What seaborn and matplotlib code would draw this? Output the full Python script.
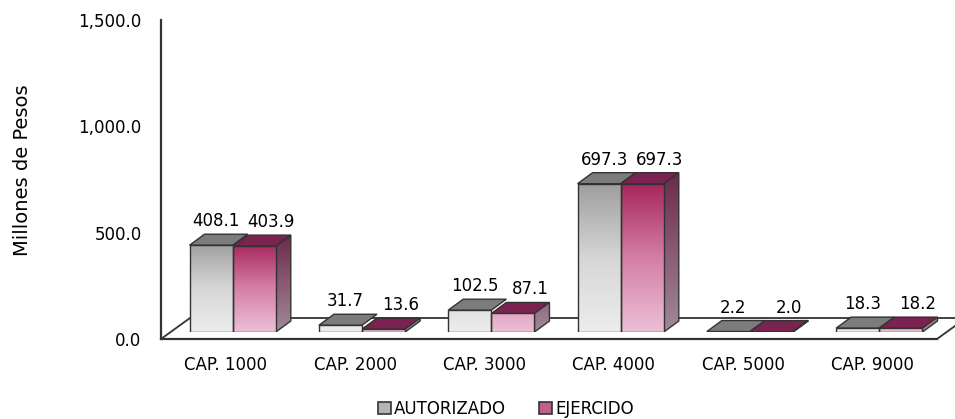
import numpy as np
import pandas as pd
import matplotlib
matplotlib.use("Agg")
import matplotlib.pyplot as plt
import seaborn as sns
from matplotlib.colors import LinearSegmentedColormap
from matplotlib.patches import Polygon, Patch

# ---------------- data ----------------
categories = ["CAP. 1000", "CAP. 2000", "CAP. 3000", "CAP. 4000", "CAP. 5000", "CAP. 9000"]
autorizado = [408.1, 31.7, 102.5, 697.3, 2.2, 18.3]
ejercido = [403.9, 13.6, 87.1, 697.3, 2.0, 18.2]
series = ["AUTORIZADO", "EJERCIDO"]
y_ticks = [0, 500, 1000, 1500]
y_label = "Millones de Pesos"

df = pd.DataFrame({
    "cat": categories * 2,
    "serie": [series[0]] * len(categories) + [series[1]] * len(categories),
    "valor": autorizado + ejercido,
})

# ---------------- style ----------------
sns.set_style("white")
plt.rcParams["font.family"] = ["DejaVu Sans"]
plt.rcParams["text.color"] = "black"
plt.rcParams["xtick.labelcolor"] = "black"
plt.rcParams["ytick.labelcolor"] = "black"
plt.rcParams["axes.labelcolor"] = "black"
FS = 12
INK = "#333333"

W, H = 955, 419
fig = plt.figure(figsize=(W / 100, H / 100), dpi=100)

fx0, fx1 = 161, 937      # front plane x extent (px)
fy0, fy1 = 339, 20       # front plane y: 0 and 1500 (px)
bar_shift = 7            # bars sit a bit deeper (px)


def rect(x0, y0):
    return [x0 / W, (H - y0) / H, (fx1 - fx0) / W, (fy0 - fy1) / H]


axf = fig.add_axes(rect(fx0, fy0))
axb = fig.add_axes(rect(fx0 + bar_shift, fy0 - bar_shift))
axb.set_zorder(axf.get_zorder() + 1)

n = len(categories)
xmin, xmax = -0.5, n - 0.5
ymax = 1500
px_x = (fx1 - fx0) / (xmax - xmin)     # px per x unit
px_y = (fy0 - fy1) / ymax              # px per y unit

# depth offsets
ddx, ddy = 15 / px_x, 11 / px_y        # bar depth
fdx, fdy = 29 / px_x, 21 / px_y        # floor depth

# ---------------- floor & axes (front plane) ----------------
axf.set_xlim(xmin, xmax)
axf.set_ylim(0, ymax)
floor = Polygon([(xmin, 0), (xmax, 0), (xmax + fdx, fdy), (xmin + fdx, fdy)],
                closed=True, facecolor="white", edgecolor=INK, lw=1.3,
                clip_on=False, zorder=1)
axf.add_patch(floor)

axf.set_yticks(y_ticks)
axf.set_yticklabels([f"{v:,.1f}" for v in y_ticks], fontsize=FS)
axf.set_xticks(np.arange(n) + 0.5)
axf.set_xticklabels([])
axf.set_xticks(np.arange(n), minor=True)
axf.set_xticklabels(categories, minor=True, fontsize=FS)
axf.tick_params(axis="x", which="major", direction="out", length=5, width=1.2, color=INK)
axf.tick_params(axis="x", which="minor", length=0, pad=12)
axf.tick_params(axis="y", direction="out", length=5, width=1.2, color=INK, pad=9)
for s in ["top", "right"]:
    axf.spines[s].set_visible(False)
for s in ["left", "bottom"]:
    axf.spines[s].set_color(INK)
    axf.spines[s].set_linewidth(1.6)
axf.set_ylabel(y_label, fontsize=14)
axf.yaxis.set_label_coords((32 - fx0) / (fx1 - fx0), (fy0 - 170) / (fy0 - fy1))
axf.patch.set_visible(False)

# ---------------- bars ----------------
sns.barplot(data=df, x="cat", y="valor", hue="serie", order=categories,
            hue_order=series, width=0.667, palette=["#bdbdbd", "#c8608f"],
            saturation=1, ax=axb, legend=False, edgecolor=INK, linewidth=1)

front_cmaps = [
    LinearSegmentedColormap.from_list("g", ["#ededed", "#d6d6d6", "#9e9e9e"]),
    LinearSegmentedColormap.from_list("p", ["#ecc0d6", "#d47ea6", "#a6255c"]),
]
side_cmap = LinearSegmentedColormap.from_list("s", ["#a08a98", "#8a5a74", "#6a2a4a"])
top_colors = ["#7c7c7c", "#7a2350"]
grad = np.linspace(0, 1, 256).reshape(-1, 1)
label_dx = [5, 17]   # px

patches = list(axb.patches)
k = 0
for si, vals in enumerate([autorizado, ejercido]):
    for ci in range(n):
        p = patches[k]
        k += 1
        x0, w, h = p.get_x(), p.get_width(), p.get_height()
        p.set_facecolor("none")
        p.set_edgecolor(INK)
        p.set_zorder(4)
        top_ext = max(h, 420)
        im = axb.imshow(grad, extent=[x0, x0 + w, 0, top_ext], origin="lower",
                        aspect="auto", cmap=front_cmaps[si], zorder=3.5,
                        interpolation="bilinear")
        im.set_clip_path(p)
        # top face
        axb.add_patch(Polygon([(x0, h), (x0 + w, h), (x0 + w + ddx, h + ddy), (x0 + ddx, h + ddy)],
                              closed=True, facecolor=top_colors[si], edgecolor=INK,
                              lw=1, zorder=3))
        if si == 1:
            side = Polygon([(x0 + w, 0), (x0 + w + ddx, ddy), (x0 + w + ddx, h + ddy), (x0 + w, h)],
                           closed=True, facecolor="none", edgecolor=INK, lw=1, zorder=3.2)
            axb.add_patch(side)
            ims = axb.imshow(grad, extent=[x0 + w, x0 + w + ddx, 0, max(h + ddy, 420)],
                             origin="lower", aspect="auto", cmap=side_cmap, zorder=3.1,
                             interpolation="bilinear")
            ims.set_clip_path(side)
        # value label
        axb.annotate(f"{vals[ci]:.1f}", (x0 + w / 2, h),
                     xytext=(label_dx[si] * 0.72, 24 * 0.72),
                     textcoords="offset points", ha="center", va="center",
                     fontsize=FS, color="black", zorder=6, annotation_clip=False)

axb.set_xlim(xmin, xmax)
axb.set_ylim(0, ymax)
axb.axis("off")

# ---------------- legend ----------------
handles = [Patch(facecolor="#b4b4b4", edgecolor=INK, lw=1.2),
           Patch(facecolor="#c0608c", edgecolor=INK, lw=1.2)]
fig.legend(handles=handles, labels=series, loc="center",
           bbox_to_anchor=(506 / W, 1 - 409 / H), ncol=2, frameon=False,
           handlelength=0.75, handleheight=0.75, handletextpad=0.2,
           columnspacing=2.0, fontsize=FS)

fig.savefig("out.png", dpi=100)
